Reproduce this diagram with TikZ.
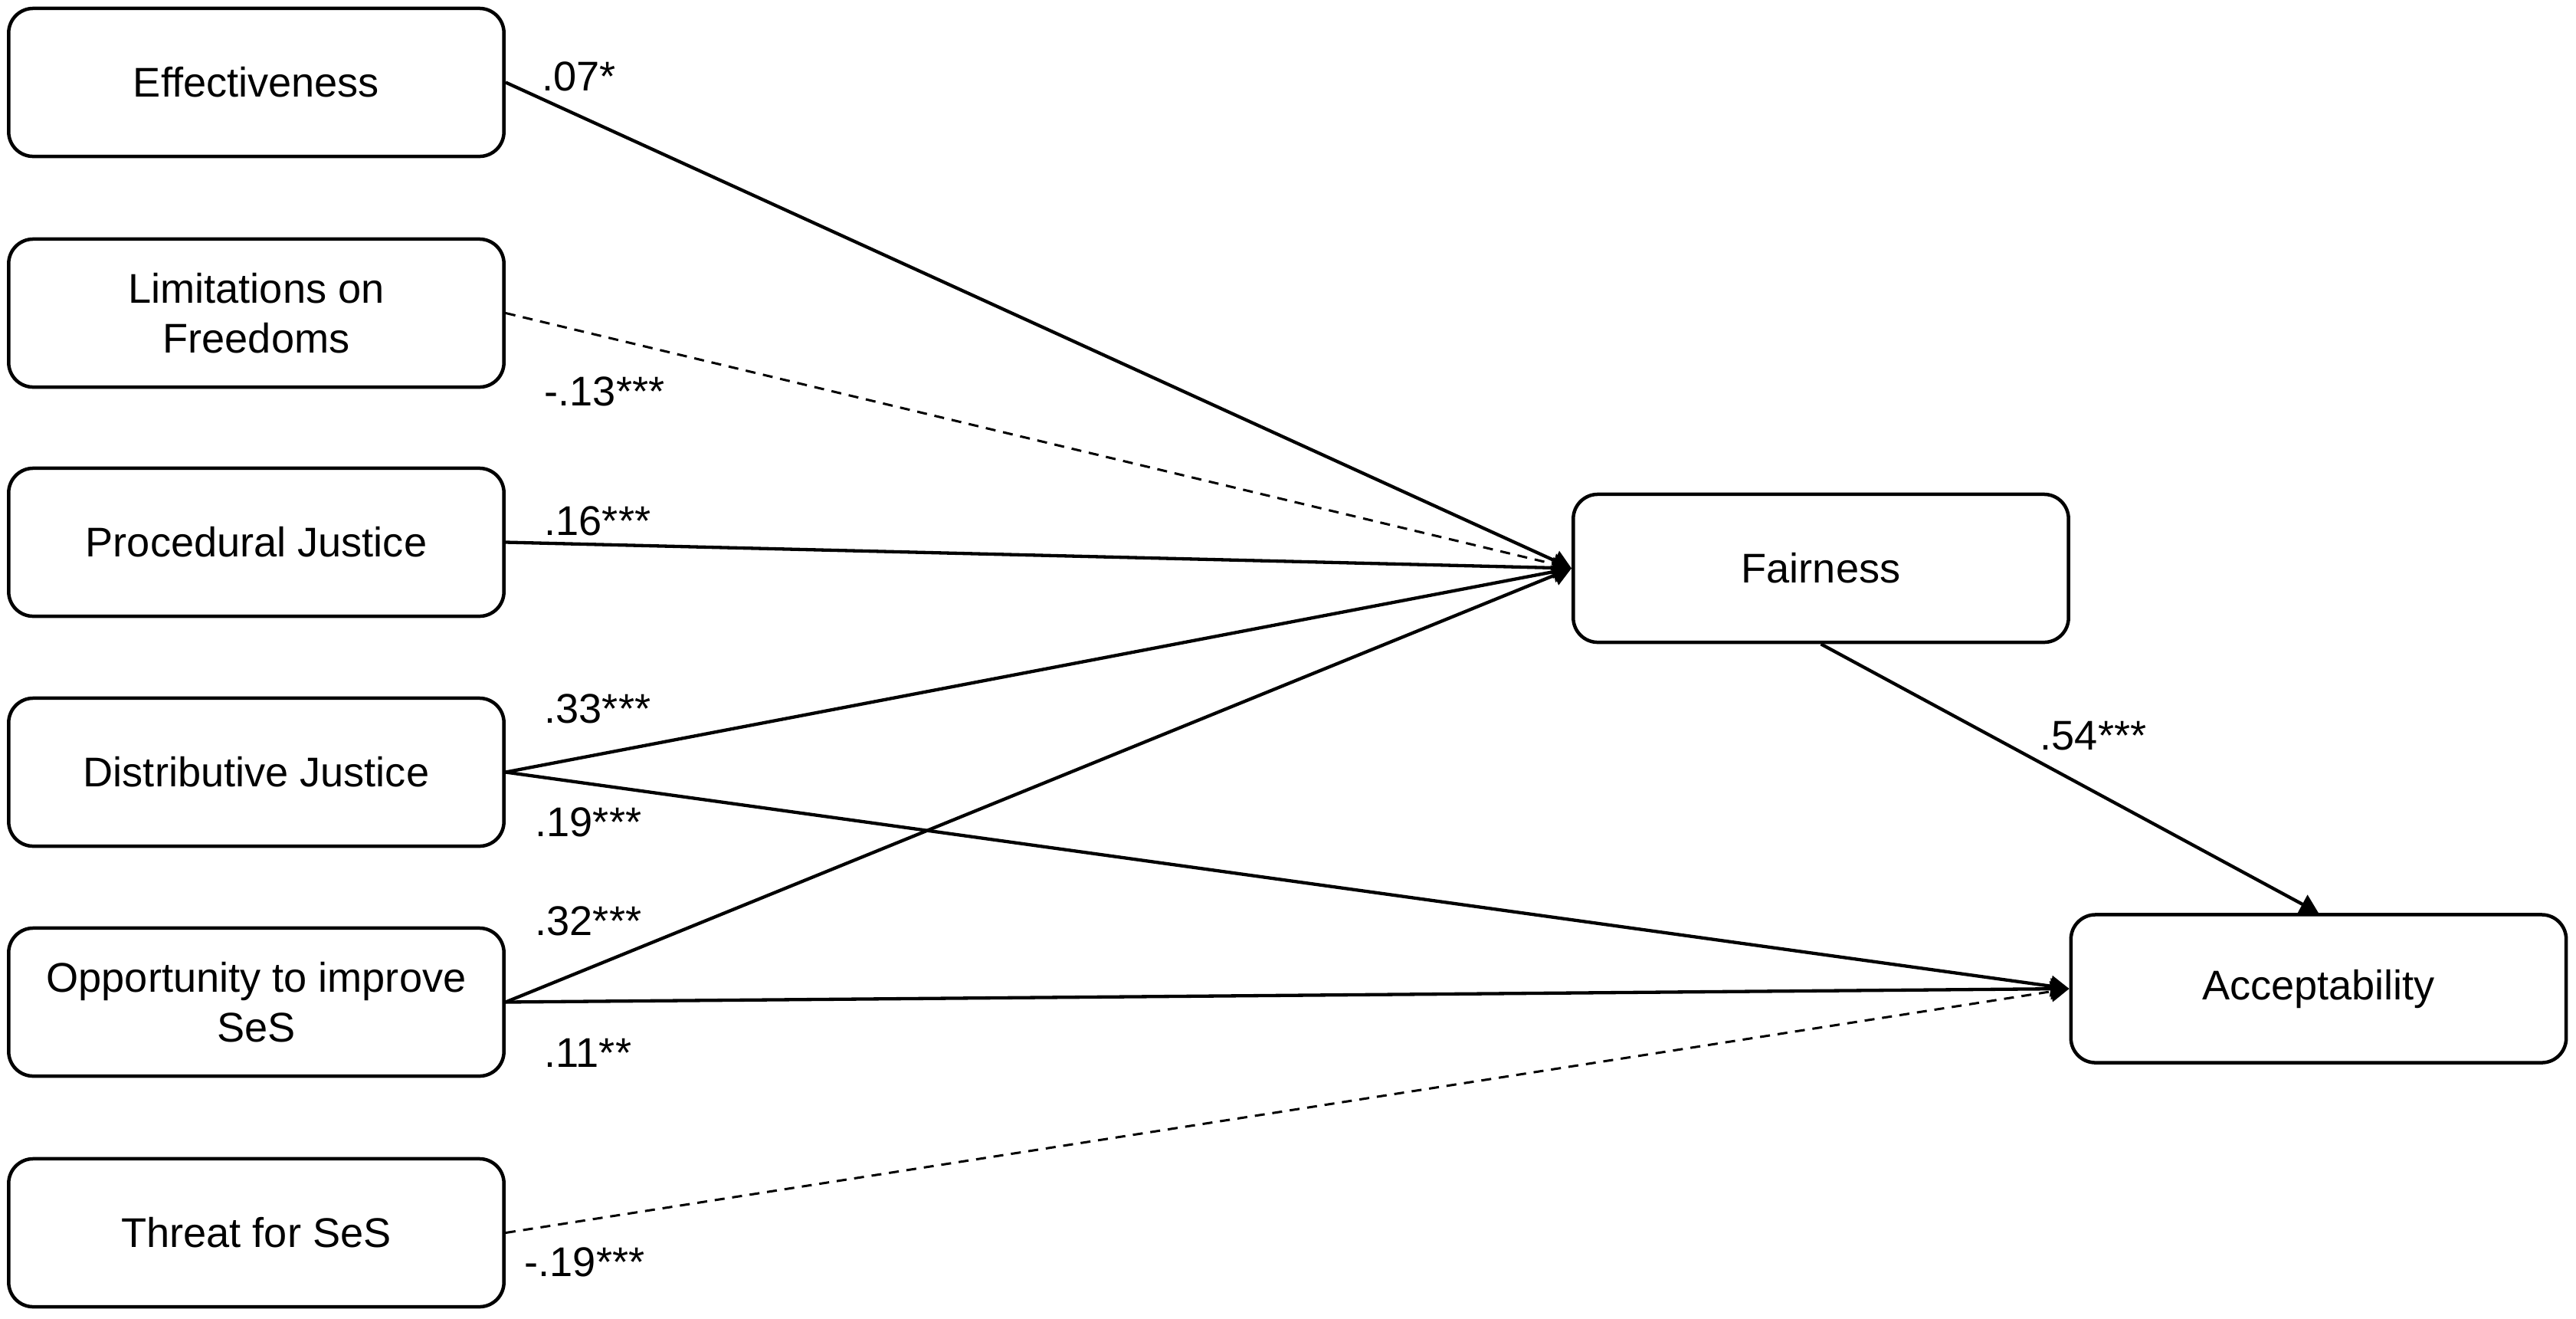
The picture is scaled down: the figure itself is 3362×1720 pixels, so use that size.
\documentclass[tikz,border=0pt]{standalone}
\usepackage{fontspec}
\setmainfont{Liberation Sans}
\usetikzlibrary{arrows.meta}
\tikzset{
  box/.style={draw=black, line width=0.045cm, rounded corners=0.32cm, fill=white,
    minimum width=6.46cm, minimum height=1.93cm, inner sep=0pt, align=center,
    font=\fontsize{15.4pt}{18.5pt}\selectfont},
  lbl/.style={anchor=base west, inner sep=0pt, font=\fontsize{15.4pt}{18.5pt}\selectfont},
  path/.style={line width=0.043cm, -{Triangle[length=0.24cm,width=0.27cm]}},
  dpath/.style={line width=0.03cm, dash pattern=on 0.13cm off 0.10cm, -{Triangle[length=0.24cm,width=0.27cm]}}
}
\begin{document}
\begin{tikzpicture}[x=0.01cm,y=-0.01cm]
\useasboundingbox (0,0) rectangle (3362,1720);
\node[box] (eff) at (334.5,107.5) {Effectiveness};
\node[box] (lim) at (334.5,408.5) {Limitations on\\Freedoms};
\node[box] (proc) at (334.5,707.5) {Procedural Justice};
\node[box] (dist) at (334.5,1007.5) {Distributive Justice};
\node[box] (opp) at (334.5,1307.5) {Opportunity to improve\\SeS};
\node[box] (thr) at (334.5,1608.5) {Threat for SeS};
\node[box] (fair) at (2376.5,741.5) {Fairness};
\node[box] (acc) at (3026,1290) {Acceptability};

\draw[path] (eff.east) -- (fair.west);
\draw[dpath] (lim.east) -- (fair.west);
\draw[path] (proc.east) -- (fair.west);
\draw[path] (dist.east) -- (fair.west);
\draw[path] (opp.east) -- (fair.west);
\draw[path] (dist.east) -- (acc.west);
\draw[path] (opp.east) -- (acc.west);
\draw[dpath] (thr.east) -- (acc.west);
\draw[path] (fair.south) -- (acc.north);

\node[lbl] (l1) at (707,118) {.07*};
\node[lbl] (l2) at (710,529) {-.13***};
\node[lbl] (l3) at (710,698) {.16***};
\node[lbl] (l4) at (710,943) {.33***};
\node[lbl] (l5) at (698,1091) {.19***};
\node[lbl] (l6) at (698,1220) {.32***};
\node[lbl] (l7) at (710,1392) {.11**};
\node[lbl] (l8) at (684,1665) {-.19***};
\node[lbl] (l9) at (2662,978) {.54***};
\end{tikzpicture}
\end{document}
